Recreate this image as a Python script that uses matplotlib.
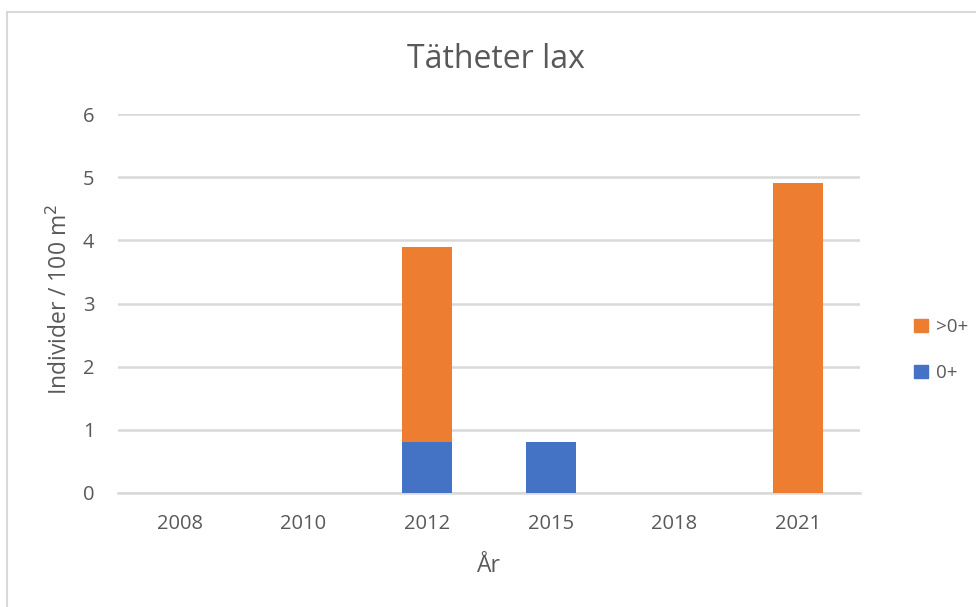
import matplotlib
matplotlib.use("Agg")
import matplotlib.pyplot as plt
from matplotlib.patches import Rectangle, Patch

# data
years = ["2008", "2010", "2012", "2015", "2018", "2021"]
young = [0, 0, 0.8, 0.8, 0, 0]        # 0+
older = [0, 0, 3.1, 0, 0, 4.9]        # >0+

BLUE = "#4472C4"
ORANGE = "#ED7D31"
GREY = "#595959"
GRID = "#D9D9D9"

plt.rcParams["font.family"] = ["Open Sans", "DejaVu Sans"]

fig = plt.figure(figsize=(9.76, 6.07), dpi=100)
W, H = 976, 607
ax = fig.add_axes([118 / W, (H - 493) / H, (860 - 118) / W, (493 - 114) / H])

x = range(len(years))
ax.bar(x, young, width=0.4, color=BLUE, linewidth=0, zorder=3)
ax.bar(x, older, bottom=young, width=0.4, color=ORANGE, linewidth=0, zorder=3)

ax.set_xlim(-0.5, len(years) - 0.5)
ax.set_ylim(0, 6)
ax.set_yticks(range(7))
ax.set_xticks(list(x))
ax.set_xticklabels(years)
ax.grid(axis="y", color=GRID, lw=1.8, zorder=0)
ax.tick_params(length=0, labelsize=14.5, colors=GREY)
ax.tick_params(axis="x", pad=15)
ax.tick_params(axis="y", pad=17)
for s in ["top", "right", "left"]:
    ax.spines[s].set_visible(False)
ax.spines["bottom"].set_color(GRID)
ax.spines["bottom"].set_linewidth(1.8)

fig.text(496 / W, 1 - 59 / H, "Tätheter lax", ha="center", va="center",
         fontsize=23, color=GREY)
fig.text(489 / W, 1 - 566 / H, "År", ha="center", va="center", fontsize=16.5, color=GREY)
fig.text(60 / W, 1 - 300 / H, "Individer / 100 m$^2$", ha="center", va="center",
         rotation=90, fontsize=16.5, color=GREY)

handles = [Patch(color=ORANGE, label=">0+"), Patch(color=BLUE, label="0+")]
fig.legend(handles=handles, loc="center left", bbox_to_anchor=(897 / W, 1 - 350 / H),
           frameon=False, fontsize=13.5, labelcolor=GREY, handlelength=0.75,
           handleheight=0.75, handletextpad=0.45, labelspacing=1.5)

# chart area border
fig.patches.append(Rectangle((7 / W, -0.1), 1.2, 1 - 12 / H + 0.1,
                             transform=fig.transFigure, fill=False,
                             edgecolor=GRID, lw=1.5, clip_on=False))

fig.savefig("out.png", dpi=100)
